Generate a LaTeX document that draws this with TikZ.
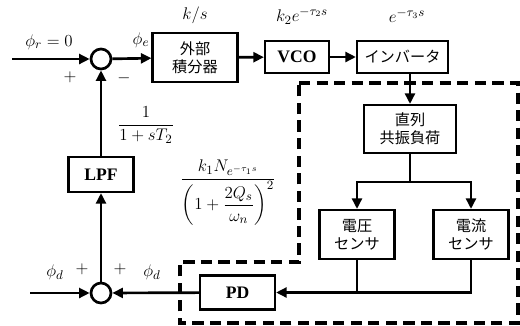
\documentclass[tikz,border=0pt]{standalone}
\usepackage{fontspec}
\usepackage{amsmath}
\setmainfont{Liberation Serif}
\newfontfamily\jpfont{Noto Sans CJK JP}
\usepackage{tikz}
\usetikzlibrary{arrows.meta,positioning,calc}

\begin{document}
\begin{tikzpicture}[x=0.025cm,y=-0.025cm,line width=1.9pt]
    \tikzset{blk/.style={draw,line width=1.5pt,align=center,inner sep=2pt,
      font=\jpfont\fontsize{10.8}{13}\selectfont},
      latinblk/.style={blk,font=\bfseries\fontsize{12.5}{14}\selectfont},
      sumpt/.style={circle,draw,line width=1.9pt,minimum size=0.5cm,inner sep=0pt},
      sig/.style={-{Triangle[length=7.5pt,width=7pt]}},
      lbl/.style={font=\fontsize{12.5}{15}\selectfont,inner sep=1pt},
      dashbox/.style={line width=2.2pt,dash pattern=on 8pt off 4.5pt}}
    \useasboundingbox (0,0) rectangle (520,325);
    \node[sumpt] (sum1) at (101,59) {};
    \node[sumpt] (sum2) at (101,293) {};
    \node[blk,minimum width=2.125cm,minimum height=1.225cm] (integ) at (195,57.5) {外部\\積分器};
    \node[latinblk,minimum width=1.6cm,minimum height=0.78cm] (vco) at (297,57) {VCO};
    \node[blk,minimum width=2.275cm,minimum height=0.8cm] (inv) at (402.5,57) {インバータ};
    \node[blk,minimum width=2.3cm,minimum height=1.2cm] (load) at (410,129) {直列\\共振負荷};
    \node[blk,minimum width=1.875cm,minimum height=1.225cm] (vsen) at (357,234.5) {電圧\\センサ};
    \node[blk,minimum width=1.875cm,minimum height=1.225cm] (isen) at (471,234.5) {電流\\センサ};
    \node[latinblk,minimum width=1.875cm,minimum height=0.85cm] (pd) at (237.5,292.5) {PD};
    \node[latinblk,minimum width=1.625cm,minimum height=0.875cm] (lpf) at (101,174.5) {LPF};
    \coordinate (in1) at (12,59);
    \coordinate (in2) at (30,293);
    \coordinate (br) at (410,182);
    \draw[sig] (in1) -- (sum1);
    \draw[sig] (sum1) -- (integ);
    \draw[sig] (integ) -- (vco);
    \draw[sig] (vco) -- (inv);
    \draw[sig] (load.north |- inv.south) -- (load);
    \draw (load) -- (br);
    \draw[sig] (br) -| (vsen);
    \draw[sig] (br) -| (isen);
    \draw[sig] (isen) |- (pd);
    \draw (vsen) -- (vsen |- pd);
    \draw[sig] (pd) -- (sum2);
    \draw[sig] (in2) -- (sum2);
    \draw[sig] (sum2) -- (lpf);
    \draw[sig] (lpf) -- (sum1);
    \draw[dashbox] (299,83) -- (518,83) -- (518,323) -- (180,323) -- (180,262) -- (299,262) -- cycle;
    \node[lbl] (phir) at (49,42) {$\phi_r = 0$};
    \node[lbl] (pl1) at (70,77) {$+$};
    \node[lbl] (mi1) at (124,78) {$-$};
    \node[lbl] (phie) at (141,40) {$\phi_e$};
    \node[lbl] (gint) at (195,15) {$k/s$};
    \node[lbl] (gvco) at (302,16) {$k_2e^{-\tau_2 s}$};
    \node[lbl] (ginv) at (407,16) {$e^{-\tau_3 s}$};
    \node[lbl] (glpf) at (146,125) {$\dfrac{1}{1+sT_2}$};
    \node[lbl] (gload) at (228,193) {$\dfrac{k_1N_{e^{-\tau_1 s}}}{\left(1+\dfrac{2Q_s}{\omega_n}\right)^{2}}$};
    \node[lbl] (phid1) at (55,272) {$\phi_d$};
    \node[lbl] (pl2) at (82,269) {$+$};
    \node[lbl] (pl3) at (120,269) {$+$};
    \node[lbl] (phid2) at (152,272) {$\phi_d$};
  \end{tikzpicture}
\end{document}
